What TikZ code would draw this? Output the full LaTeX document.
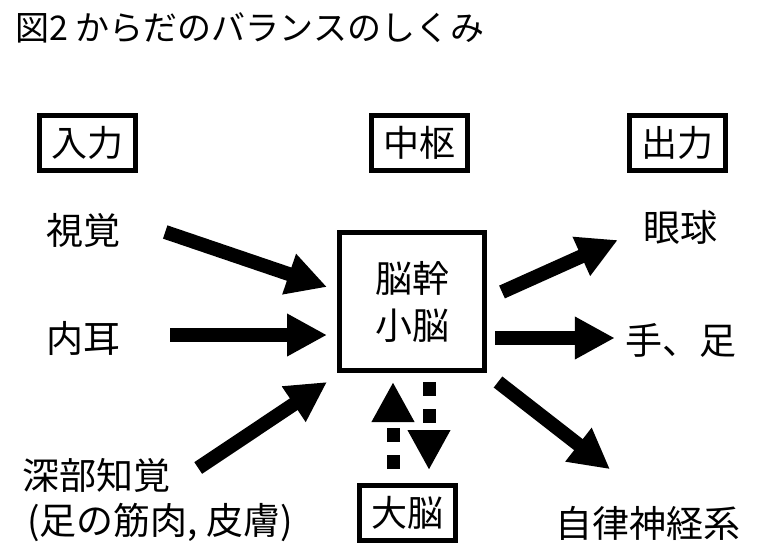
\documentclass[tikz,border=0pt]{standalone}
\usepackage{fontspec}
\newfontfamily\jp{Noto Sans CJK JP}
\usetikzlibrary{arrows.meta,calc}
\tikzset{
  bigarrow/.style={line width=14pt, -{Triangle[width=40pt,length=40pt]}},
  dotarrow/.style={line width=13pt, dash pattern=on 14pt off 13pt, -{Triangle[width=40pt,length=40pt]}},
  headbox/.style={draw, line width=5pt, minimum width=96pt, minimum height=55pt, inner sep=0pt,
    font=\jp\fontsize{36}{40}\selectfont},
  word/.style={inner sep=0pt, font=\jp\fontsize{37}{47}\selectfont}
}
\begin{document}
\begin{tikzpicture}[x=1pt, y=-1pt]
        \useasboundingbox (0, 0) rectangle (759, 552);
        \node[anchor=west, inner sep=0pt, font=\jp\fontsize{34}{40}\selectfont] (title) at (15, 28) {図2 からだのバランスのしくみ};
        % headings
        \node[headbox] (input) at (87.5, 143) {入力};
        \node[headbox] (center) at (419, 143) {中枢};
        \node[headbox] (output) at (677.5, 143) {出力};
        % input side
        \node[word] (vision) at (83.5, 230) {視覚};
        \node[word] (ear) at (83, 338) {内耳};
        \node[word] (deep) at (96, 475) {深部知覚};
        \node[word] (deepnote) at (160, 522) {(足の筋肉, 皮膚)};
        % core and cerebrum
        \node[word, draw, line width=5pt, minimum width=145pt, minimum height=138pt, align=center] (core) at (412, 301.5) {脳幹\\小脳};
        \node[headbox] (cerebrum) at (407, 513) {大脳};
        % output side
        \node[word] (eye) at (680, 227) {眼球};
        \node[word] (limbs) at (681, 340) {手、足};
        \node[word] (auto) at (648, 523) {自律神経系};
        % arrows
        \draw[bigarrow] ($(vision.east)+(44.5, 2)$) -- ($(core.west)+(-10, -14.5)$);
        \draw[bigarrow] ($(ear.east)+(50, -3)$) -- ($(core.west)+(-10, 33.5)$);
        \draw[bigarrow] ($(deep.east)+(28, -7)$) -- ($(core.south west)+(-10, 9)$);
        \draw[bigarrow] ($(core.east)+(15, -9.5)$) -- ($(eye.west)+(-25, 13)$);
        \draw[bigarrow] ($(core.east)+(8, 36.5)$) -- ($(limbs.west)+(-10.5, -2)$);
        \draw[bigarrow] ($(core.south east)+(11, 9)$) -- ($(auto.north)+(-38, -36.5)$);
        \draw[dotarrow] ($(cerebrum.north)+(-14, -14)$) -- ($(core.south)+(-19, 9)$);
        \draw[dotarrow] ($(core.south)+(17, 9)$) -- ($(cerebrum.north)+(22, -13)$);
      \end{tikzpicture}
\end{document}
